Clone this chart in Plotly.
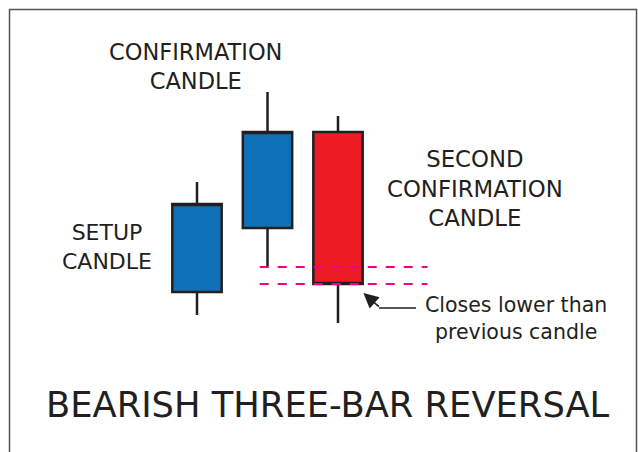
import plotly.graph_objects as go

# three candles: setup, confirmation, second confirmation
candles = ["Setup", "Confirmation", "Second confirmation"]
x_pos = [1, 2, 3]
opens = [16.0, 22.4, 32.0]
highs = [27.0, 36.0, 33.6]
lows = [13.7, 18.5, 12.9]
closes = [24.8, 32.0, 16.8]

INK = "#231f20"
BLUE = "#0f72b9"
RED = "#ed1c24"
PINK = "#ec008c"
FONT = "DejaVu Sans"

W, H = 638, 452


def px_x(p):
    return p / W


def px_y(p):
    return 1 - p / H


fig = go.Figure()
fig.add_trace(
    go.Candlestick(
        x=x_pos,
        open=opens,
        high=highs,
        low=lows,
        close=closes,
        text=candles,
        increasing=dict(fillcolor=BLUE, line=dict(color=INK, width=2.5)),
        decreasing=dict(fillcolor=RED, line=dict(color=INK, width=2.5)),
        whiskerwidth=0,
        showlegend=False,
    )
)

# dashed levels: low of confirmation candle, close of second confirmation
for level in [lows[1], closes[2]]:
    fig.add_shape(
        type="line", xref="x", yref="y",
        x0=1.89, x1=4.27, y0=level, y1=level,
        line=dict(color=PINK, width=2, dash="dash"),
    )

# frame (open at the bottom)
fig.add_shape(
    type="rect", xref="paper", yref="paper",
    x0=px_x(9.5), x1=px_x(636.5), y0=-0.1, y1=px_y(9.5),
    line=dict(color="#555555", width=1.5),
)

# arrow to the close of the red candle
fig.add_shape(
    type="line", xref="paper", yref="paper",
    x0=px_x(379), x1=px_x(416), y0=px_y(308), y1=px_y(308),
    line=dict(color=INK, width=1.5),
)
fig.add_annotation(
    x=3.36, y=closes[2] - 0.9, xref="x", yref="y",
    text="", showarrow=True, axref="pixel", ayref="pixel", ax=17, ay=15,
    arrowhead=2, arrowsize=2, arrowwidth=1.5, arrowcolor=INK,
)

labels = [
    ("CONFIRMATION<br>CANDLE", 195, 66, 22.5),
    ("SETUP<br>CANDLE", 107, 247, 22),
    ("SECOND<br>CONFIRMATION<br>CANDLE", 475, 188, 22.8),
    ("Closes lower than<br>previous candle", 516, 318, 20.5),
    ("BEARISH THREE-BAR REVERSAL", 328, 404, 35.3),
]
for text, lx, ly, size in labels:
    fig.add_annotation(
        x=px_x(lx), y=px_y(ly), xref="paper", yref="paper",
        text=text, showarrow=False, xanchor="center", yanchor="middle",
        font=dict(family=FONT, size=size, color=INK),
    )

fig.update_layout(
    width=W,
    height=H,
    margin=dict(l=0, r=0, t=0, b=0),
    paper_bgcolor="white",
    plot_bgcolor="white",
    boxgap=0.3,
    boxgroupgap=0,
    xaxis=dict(range=[-1.794, 7.255], visible=False, rangeslider=dict(visible=False), fixedrange=True),
    yaxis=dict(range=[0, 45.2], visible=False, fixedrange=True),
)

fig.write_html(
    "out.html",
    config={"displayModeBar": False},
    post_script="document.body.style.margin='0';document.body.style.overflow='hidden';",
)
